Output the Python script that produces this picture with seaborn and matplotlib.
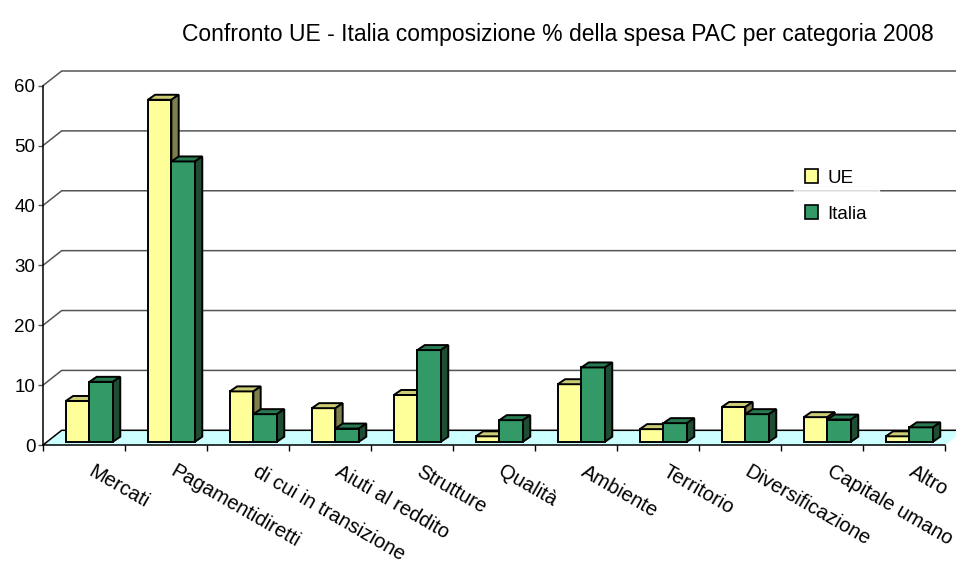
import matplotlib
matplotlib.use("Agg")
import matplotlib.pyplot as plt
import matplotlib.transforms as mtransforms
from matplotlib.patches import Polygon, Patch, Rectangle
from matplotlib.lines import Line2D
import pandas as pd
import seaborn as sns

# Spesa PAC per categoria 2008 (%)
categorie = [
    "Mercati",
    "Pagamentidiretti",
    "di cui in transizione",
    "Aiuti al reddito",
    "Strutture",
    "Qualità",
    "Ambiente",
    "Territorio",
    "Diversificazione",
    "Capitale umano",
    "Altro",
]
ue = [6.8, 57.1, 8.4, 5.6, 7.8, 0.9, 9.6, 2.1, 5.8, 4.1, 0.9]
italia = [10.0, 46.8, 4.6, 2.2, 15.3, 3.6, 12.4, 3.1, 4.6, 3.7, 2.4]
serie = ["UE", "Italia"]
y_ticks = [0, 10, 20, 30, 40, 50, 60]

sns.set_theme(style="white")
plt.rcParams["font.family"] = ["Liberation Sans", "DejaVu Sans"]
plt.rcParams["text.color"] = "black"
plt.rcParams["xtick.color"] = "black"
plt.rcParams["ytick.color"] = "black"

df = pd.DataFrame(
    {
        "categoria": categorie * 2,
        "valore": ue + italia,
        "serie": [serie[0]] * len(ue) + [serie[1]] * len(italia),
    }
)

# front / top / side colours for the fake 3d bars
colors = {
    "UE": ("#FFFF99", "#CCCC77", "#7F7F4C"),
    "Italia": ("#339966", "#287A50", "#1E4D33"),
}

DPI = 100
fig = plt.figure(figsize=(9.56, 5.62), dpi=DPI)
W, H = 956, 562
ax = fig.add_axes([43 / W, (H - 445) / H, (945 - 43) / W, 359.3 / H])
ax.patch.set_alpha(0)

sns.barplot(
    df,
    ax=ax,
    x="categoria",
    y="valore",
    hue="serie",
    order=categorie,
    hue_order=serie,
    palette=[colors[s][0] for s in serie],
    saturation=1,
    width=0.575,
    edgecolor="black",
    linewidth=1.4,
    legend=False,
)
bars = [p for p in ax.patches if isinstance(p, Rectangle) and p.get_height() > 0]
ax.set_xlim(-0.5, len(categorie) - 0.5)
ax.set_ylim(0, 60)
ax.set_xlabel("")
ax.set_ylabel("")

# depth of the "3d" floor / wall and of the bars, in pixels
fdx, fdy = 18.7, 14.7
bdx, bdy = 7.3, 5.0
offx, offy = 5.4, 3.3

ident = mtransforms.IdentityTransform()


def px(x, y):
    return ax.transData.transform((x, y))


x0, x1 = ax.get_xlim()

# floor
a = px(x0, 0)
b = px(x1, 0)
floor = Polygon(
    [a, b, (b[0] + fdx, b[1] + fdy), (a[0] + fdx, a[1] + fdy)],
    closed=True,
    facecolor="#CCFFFF",
    edgecolor="none",
    transform=ident,
    clip_on=False,
    zorder=0.5,
)
ax.add_artist(floor)

# back wall gridlines
for v in y_ticks:
    p = px(x0, v)
    ax.add_artist(
        Line2D(
            [p[0], p[0] + fdx, W + 20],
            [p[1], p[1] + fdy, p[1] + fdy],
            color="#555555" if v else "black",
            lw=1.1,
            transform=ident,
            clip_on=False,
            zorder=0.6,
        )
    )

# move bars back a bit and add top / side faces
shift = mtransforms.ScaledTranslation(offx / DPI, offy / DPI, fig.dpi_scale_trans)
n = len(categorie)
for k, bar in enumerate(bars):
    s = serie[k // n]
    bar.set_transform(ax.transData + shift)
    bar.set_zorder(3 + k // n)
    bx, by = bar.get_x(), bar.get_y()
    bw, bh = bar.get_width(), bar.get_height()
    (l, bot) = px(bx, by) + (offx, offy)
    (r, top) = px(bx + bw, by + bh) + (offx, offy)
    top_face = [(l, top), (r, top), (r + bdx, top + bdy), (l + bdx, top + bdy)]
    side_face = [(r, bot), (r + bdx, bot + bdy), (r + bdx, top + bdy), (r, top)]
    for verts, fc in [(top_face, colors[s][1]), (side_face, colors[s][2])]:
        ax.add_artist(
            Polygon(
                verts,
                closed=True,
                facecolor=fc,
                edgecolor="black",
                lw=1.4,
                transform=ident,
                clip_on=False,
                zorder=3 + k // n,
            )
        )

# axes
for side in ["top", "right"]:
    ax.spines[side].set_visible(False)
ax.spines["left"].set_color("black")
ax.spines["bottom"].set_color("black")
ax.spines["left"].set_linewidth(1.1)
ax.spines["bottom"].set_linewidth(1.1)
ax.spines["left"].set_zorder(10)
ax.spines["bottom"].set_zorder(10)

ax.set_yticks(y_ticks)
ax.tick_params(
    axis="y", which="major", direction="out", length=3.5, width=1,
    color="#555555", labelsize=13.5, pad=2, left=True, labelcolor="black",
)
ax.set_xticks(range(len(categorie)))
ax.set_xticklabels(
    categorie, rotation=-30, ha="left", va="top", rotation_mode="anchor"
)
ax.set_xticks([i - 0.5 for i in range(len(categorie) + 1)], minor=True)
ax.tick_params(
    axis="x", which="major", length=0, labelsize=14.5, pad=12, labelcolor="black"
)
ax.tick_params(
    axis="x", which="minor", direction="out", length=4, width=1,
    color="black", bottom=True,
)
lab_shift = mtransforms.ScaledTranslation(11 / DPI, 0, fig.dpi_scale_trans)
for lab in ax.get_xticklabels():
    lab.set_transform(lab.get_transform() + lab_shift)

# legend
handles = [
    Patch(facecolor=colors[s][0], edgecolor="black", lw=1.2, label=s) for s in serie
]
leg = ax.legend(
    handles=handles,
    loc="center",
    bbox_to_anchor=(836 / W, 1 - 196 / H),
    bbox_transform=fig.transFigure,
    frameon=True,
    fontsize=13.5,
    handlelength=0.72,
    handleheight=0.72,
    handletextpad=0.5,
    labelspacing=1.0,
    borderpad=0.6,
    fancybox=False,
)
leg.get_frame().set_facecolor("white")
leg.get_frame().set_edgecolor("white")
leg.set_zorder(20)

fig.text(
    558 / W, 1 - 34 / H,
    "Confronto UE - Italia composizione % della spesa PAC per categoria 2008",
    ha="center", va="center", fontsize=16.5,
)

fig.savefig("out.png", dpi=DPI)
